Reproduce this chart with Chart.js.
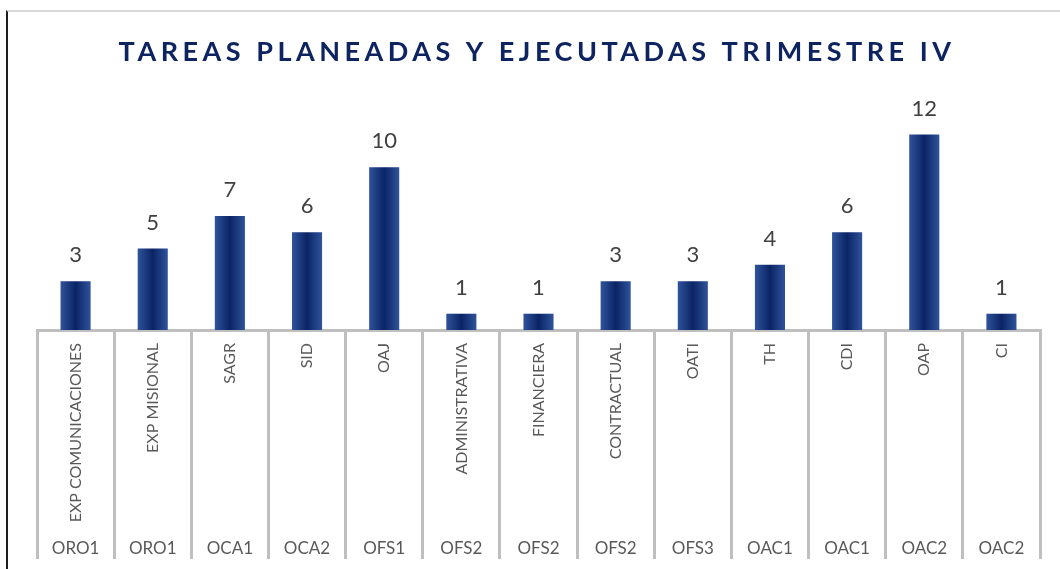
<!DOCTYPE html>
<html>
<head>
<meta charset="utf-8">
<script src="https://cdn.jsdelivr.net/npm/chart.js@4/dist/chart.umd.min.js"></script>
<style>
  html, body { margin: 0; padding: 0; background: #fff; }
  #wrap { position: relative; width: 1060px; height: 569px; }
  #frame { position: absolute; left: 6px; top: 10px; right: 0; bottom: 0;
           border-left: 2px solid #1e1e1e; border-top: 2px solid #d9d9d9; pointer-events: none; }
  canvas { position: absolute; left: 0; top: 0; }
</style>
</head>
<body>
<div id="wrap">
  <canvas id="chart" width="1060" height="569"></canvas>
  <div id="frame"></div>
</div>
<script>
var titulo = 'TAREAS PLANEADAS Y EJECUTADAS TRIMESTRE IV';
var areas = ['EXP COMUNICACIONES', 'EXP MISIONAL', 'SAGR', 'SID', 'OAJ', 'ADMINISTRATIVA',
             'FINANCIERA', 'CONTRACTUAL', 'OATI', 'TH', 'CDI', 'OAP', 'CI'];
var grupos = ['ORO1', 'ORO1', 'OCA1', 'OCA2', 'OFS1', 'OFS2', 'OFS2', 'OFS2', 'OFS3',
              'OAC1', 'OAC1', 'OAC2', 'OAC2'];
var tareas = [3, 5, 7, 6, 10, 1, 1, 3, 3, 4, 6, 12, 1];

// horizontal shading on each bar, light edges and dark centre
function relleno(c) {
  var xs = c.chart.scales.x;
  if (!xs || c.type !== 'data' || !xs.width) return '#143270';
  var cx = xs.getPixelForValue(c.dataIndex);
  var half = xs.width / areas.length * 0.39 / 2;
  var g = c.chart.ctx.createLinearGradient(cx - half, 0, cx + half, 0);
  g.addColorStop(0, '#2f539a');
  g.addColorStop(0.5, '#0b2466');
  g.addColorStop(1, '#2f539a');
  return g;
}

var etiquetas = {
  id: 'etiquetas',
  afterDatasetsDraw: function(chart) {
    var ctx = chart.ctx;
    ctx.save();
    ctx.font = '22px Lato';
    ctx.fillStyle = '#404040';
    ctx.textAlign = 'center';
    ctx.textBaseline = 'middle';
    chart.getDatasetMeta(0).data.forEach(function(bar, i) {
      ctx.fillText(tareas[i], bar.x, bar.y - 26);
    });
    ctx.restore();
  }
};

var encabezado = {
  id: 'encabezado',
  afterDraw: function(chart) {
    var ctx = chart.ctx;
    ctx.save();
    ctx.font = 'bold 27px Lato';
    ctx.letterSpacing = '4.5px';
    ctx.fillStyle = '#0d2460';
    ctx.textAlign = 'center';
    ctx.textBaseline = 'middle';
    ctx.fillText(titulo, 535 + 2, 52);
    ctx.restore();
  }
};

new Chart(document.getElementById('chart'), {
  type: 'bar',
  data: {
    labels: areas,
    datasets: [{
      data: tareas,
      backgroundColor: relleno,
      borderWidth: 0,
      barPercentage: 0.39,
      categoryPercentage: 1
    }]
  },
  options: {
    responsive: false,
    animation: false,
    layout: { padding: { top: 102, left: 37, right: 20, bottom: 10 } },
    plugins: {
      legend: { display: false },
      title: { display: false },
      tooltip: { enabled: false }
    },
    scales: {
      y: { display: false, min: 0, max: 14 },
      x: {
        weight: 0,
        offset: true,
        grid: { offset: true, drawOnChartArea: false, tickLength: 193, color: '#bfbfbf', lineWidth: 3 },
        border: { display: true, color: '#bfbfbf', width: 3 },
        ticks: {
          autoSkip: false, minRotation: 90, maxRotation: 90, padding: -180,
          color: '#595959', font: { family: 'Lato', size: 16 }
        },
        afterFit: function(s) { s.height = 193; }
      },
      x2: {
        type: 'category',
        labels: grupos,
        position: 'bottom',
        weight: 1,
        offset: true,
        grid: { offset: true, drawOnChartArea: false, tickLength: 36, color: '#bfbfbf', lineWidth: 3 },
        border: { display: false },
        ticks: {
          autoSkip: false, maxRotation: 0, padding: -21,
          color: '#595959', font: { family: 'Lato', size: 17 }
        },
        afterFit: function(s) { s.height = 36; }
      }
    }
  },
  plugins: [etiquetas, encabezado]
});
</script>
</body>
</html>
